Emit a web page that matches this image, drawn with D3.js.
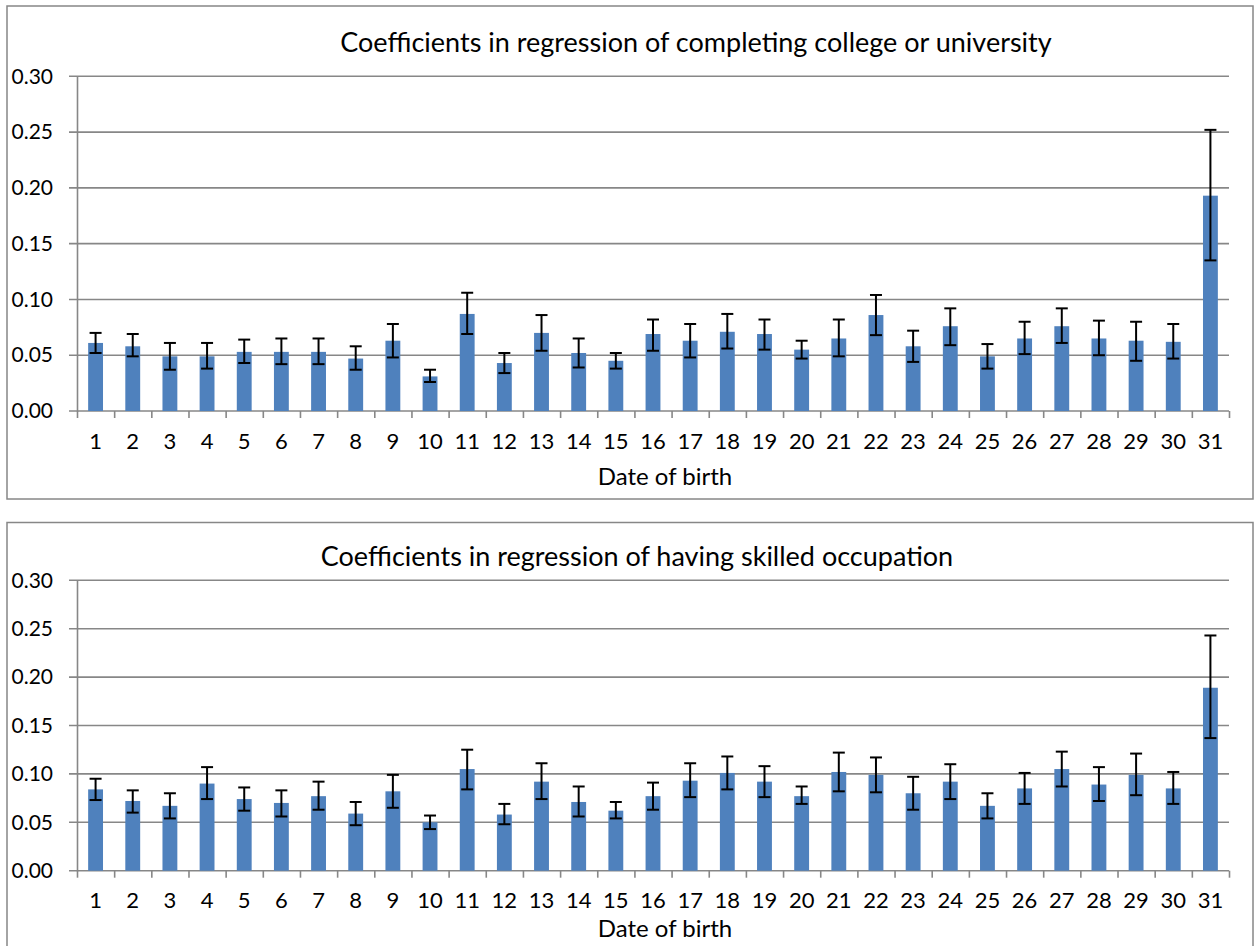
<!DOCTYPE html>
<html>
<head>
<meta charset="utf-8">
<script src="https://cdn.jsdelivr.net/npm/d3@7"></script>
<style>
  body { margin: 0; background: #fff; }
  svg { display: block; font-family: Lato, "Liberation Sans", sans-serif; }
</style>
</head>
<body>
<svg width="1254" height="946"></svg>
<script>
// Categories: day of the month
var days = ['1','2','3','4','5','6','7','8','9','10','11','12','13','14','15','16',
  '17','18','19','20','21','22','23','24','25','26','27','28','29','30','31']

// Top panel: completing college or university
var collegeCoef = [0.061, 0.058, 0.049, 0.049, 0.053, 0.053, 0.053, 0.047, 0.063, 0.031,
  0.087, 0.043, 0.070, 0.052, 0.045, 0.069, 0.063, 0.071, 0.069, 0.055,
  0.065, 0.086, 0.058, 0.076, 0.049, 0.065, 0.076, 0.065, 0.063, 0.062, 0.193]
var collegeHigh = [0.070, 0.069, 0.061, 0.061, 0.064, 0.065, 0.065, 0.058, 0.078, 0.037,
  0.106, 0.052, 0.086, 0.065, 0.052, 0.082, 0.078, 0.087, 0.082, 0.063,
  0.082, 0.104, 0.072, 0.092, 0.060, 0.080, 0.092, 0.081, 0.080, 0.078, 0.252]
var collegeLow = [0.052, 0.049, 0.037, 0.038, 0.043, 0.042, 0.042, 0.037, 0.048, 0.026,
  0.069, 0.034, 0.054, 0.039, 0.038, 0.054, 0.048, 0.056, 0.055, 0.047,
  0.049, 0.068, 0.044, 0.059, 0.038, 0.051, 0.061, 0.050, 0.045, 0.047, 0.135]

// Bottom panel: having skilled occupation
var skilledCoef = [0.084, 0.072, 0.067, 0.090, 0.074, 0.070, 0.077, 0.059, 0.082, 0.050,
  0.105, 0.058, 0.092, 0.071, 0.062, 0.077, 0.093, 0.101, 0.092, 0.077,
  0.102, 0.099, 0.080, 0.092, 0.067, 0.085, 0.105, 0.089, 0.099, 0.085, 0.189]
var skilledHigh = [0.095, 0.083, 0.080, 0.107, 0.086, 0.083, 0.092, 0.071, 0.099, 0.057,
  0.125, 0.069, 0.111, 0.087, 0.071, 0.091, 0.111, 0.118, 0.108, 0.087,
  0.122, 0.117, 0.097, 0.110, 0.080, 0.101, 0.123, 0.107, 0.121, 0.102, 0.243]
var skilledLow = [0.073, 0.060, 0.054, 0.074, 0.062, 0.056, 0.063, 0.047, 0.065, 0.043,
  0.084, 0.048, 0.074, 0.056, 0.054, 0.063, 0.076, 0.084, 0.076, 0.069,
  0.082, 0.081, 0.063, 0.074, 0.054, 0.069, 0.087, 0.072, 0.078, 0.069, 0.137]

var yTicks = [0, 0.05, 0.10, 0.15, 0.20, 0.25, 0.30]

var svg = d3.select('svg')
var gridColor = '#878787'
var barColor = '#4f81bd'
var left = 77,
  right = 1229

function drawPanel(p) {
  var g = svg.append('g')

  // outer frame
  g.append('rect')
    .attr('x', 7)
    .attr('y', p.boxTop)
    .attr('width', 1246)
    .attr('height', p.boxBottom - p.boxTop)
    .attr('fill', 'none')
    .attr('stroke', gridColor)
    .attr('stroke-width', 1.5)

  var x = d3.scaleBand().domain(days).range([left, right]).paddingInner(0.6).paddingOuter(0.3)
  var xEdge = d3.scaleLinear().domain([0, days.length]).range([left, right])
  var y = d3.scaleLinear().domain([0, 0.3]).range([p.bottom, p.top])

  // gridlines (extend left as tick marks)
  g.selectAll('.grid')
    .data(yTicks)
    .enter()
    .append('line')
    .attr('x1', left - 8)
    .attr('x2', right)
    .attr('y1', function(d) { return y(d) })
    .attr('y2', function(d) { return y(d) })
    .attr('stroke', gridColor)
    .attr('stroke-width', 1.6)

  // y axis labels
  var yAxis = g.append('g')
    .attr('transform', 'translate(' + left + ',0)')
    .call(d3.axisLeft(y).tickValues(yTicks).tickFormat(d3.format('.2f')).tickSize(0).tickPadding(24))
  yAxis.select('.domain').attr('stroke', gridColor).attr('stroke-width', 1.6)
  yAxis.selectAll('text').attr('font-size', 21).attr('fill', '#000').attr('font-family', 'Lato')

  // x tick marks at category edges
  var xTickAxis = g.append('g')
    .attr('transform', 'translate(0,' + p.bottom + ')')
    .call(d3.axisBottom(xEdge).tickValues(d3.range(0, days.length + 1)).tickFormat('').tickSize(7).tickSizeOuter(0))
  xTickAxis.select('.domain').remove()
  xTickAxis.selectAll('line').attr('stroke', gridColor).attr('stroke-width', 1.6)

  // x labels
  var xAxis = g.append('g')
    .attr('transform', 'translate(0,' + p.bottom + ')')
    .call(d3.axisBottom(x).tickSize(0).tickPadding(p.labelPad))
  xAxis.select('.domain').remove()
  xAxis.selectAll('text').attr('font-size', 22).attr('fill', '#000').attr('font-family', 'Lato')

  // bars
  g.selectAll('.bar')
    .data(p.coef)
    .enter()
    .append('rect')
    .attr('x', function(d, i) { return x(days[i]) })
    .attr('width', x.bandwidth())
    .attr('y', function(d) { return y(d) })
    .attr('height', function(d) { return y(0) - y(d) })
    .attr('fill', barColor)

  // error bars
  var eb = g.selectAll('.err')
    .data(p.coef)
    .enter()
    .append('g')
    .attr('stroke', '#000')
    .attr('stroke-width', 2)
  var cx = function(i) { return x(days[i]) + x.bandwidth() / 2 }
  eb.append('line')
    .attr('x1', function(d, i) { return cx(i) })
    .attr('x2', function(d, i) { return cx(i) })
    .attr('y1', function(d, i) { return y(p.high[i]) })
    .attr('y2', function(d, i) { return y(p.low[i]) })
  eb.append('line')
    .attr('x1', function(d, i) { return cx(i) - 6 })
    .attr('x2', function(d, i) { return cx(i) + 6 })
    .attr('y1', function(d, i) { return y(p.high[i]) })
    .attr('y2', function(d, i) { return y(p.high[i]) })
  eb.append('line')
    .attr('x1', function(d, i) { return cx(i) - 6 })
    .attr('x2', function(d, i) { return cx(i) + 6 })
    .attr('y1', function(d, i) { return y(p.low[i]) })
    .attr('y2', function(d, i) { return y(p.low[i]) })

  // titles
  g.append('text')
    .attr('x', p.titleX)
    .attr('y', p.titleY)
    .attr('text-anchor', 'middle')
    .attr('font-size', 27)
    .text(p.title)
  g.append('text')
    .attr('x', 665)
    .attr('y', p.xTitleY)
    .attr('text-anchor', 'middle')
    .attr('font-size', 24)
    .text('Date of birth')
}

drawPanel({
  boxTop: 6, boxBottom: 499,
  top: 76.3, bottom: 411,
  coef: collegeCoef, high: collegeHigh, low: collegeLow,
  title: 'Coefficients in regression of completing college or university',
  titleX: 696, titleY: 51.7, xTitleY: 485, labelPad: 22
})

drawPanel({
  boxTop: 522.5, boxBottom: 960,
  top: 580.3, bottom: 870.7,
  coef: skilledCoef, high: skilledHigh, low: skilledLow,
  title: 'Coefficients in regression of having skilled occupation',
  titleX: 637, titleY: 565.7, xTitleY: 936.7, labelPad: 22
})
</script>
</body>
</html>
